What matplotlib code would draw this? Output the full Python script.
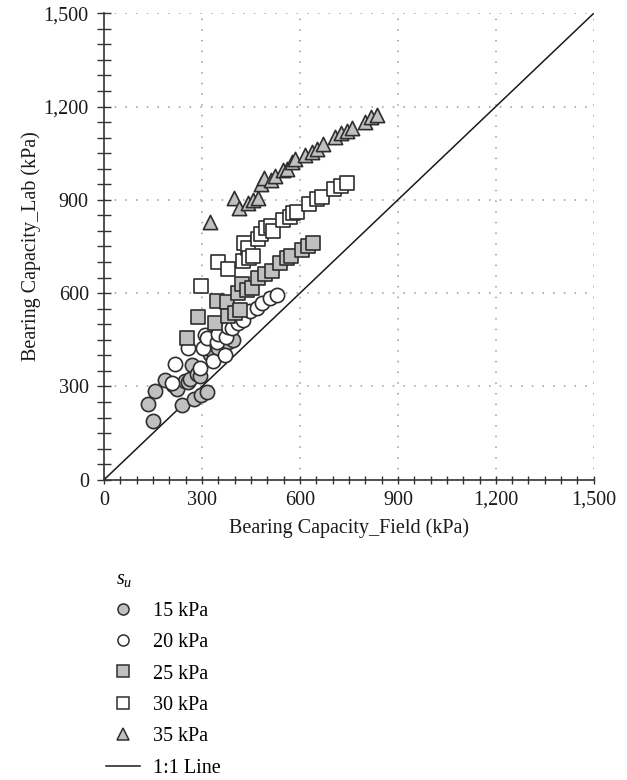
import numpy as np
import matplotlib
matplotlib.use("Agg")
import matplotlib.pyplot as plt
from matplotlib.ticker import MultipleLocator, FuncFormatter
from matplotlib.lines import Line2D

plt.rcParams['font.family'] = ['Liberation Serif', 'DejaVu Serif']
plt.rcParams['mathtext.fontset'] = 'custom'
plt.rcParams['mathtext.it'] = 'Liberation Serif:italic'
plt.rcParams['mathtext.rm'] = 'Liberation Serif'

# field vs lab bearing capacity (kPa) for each undrained shear strength
su15_field = [136, 149, 156, 187, 210, 222, 238, 248, 258, 263, 268, 276, 285, 294, 297, 314, 324, 334, 349, 380, 395]
su15_lab = [243, 190, 285, 320, 305, 291, 241, 316, 313, 325, 369, 260, 340, 332, 273, 281, 405, 412, 424, 442, 450]

su20_field = [207, 217, 258, 294, 304, 309, 314, 334, 345, 350, 370, 372, 380, 391, 410, 426, 447, 467, 483, 508, 529]
su20_lab = [310, 373, 423, 359, 423, 466, 455, 382, 444, 470, 400, 460, 490, 487, 504, 514, 541, 551, 568, 584, 594]

su25_field = [253, 289, 340, 345, 375, 380, 401, 411, 416, 421, 437, 452, 472, 493, 513, 539, 559, 574, 605, 625, 641]
su25_lab = [455, 522, 503, 575, 573, 525, 535, 600, 546, 630, 610, 616, 650, 662, 672, 698, 712, 720, 739, 752, 760]

su30_field = [297, 350, 380, 426, 430, 440, 445, 457, 470, 480, 495, 510, 516, 549, 569, 580, 590, 628, 651, 666, 704, 727, 743]
su30_lab = [622, 700, 678, 702, 760, 745, 712, 718, 775, 790, 808, 815, 800, 835, 846, 857, 862, 887, 902, 910, 934, 944, 953]

su35_field = [325, 398, 412, 440, 455, 470, 480, 490, 510, 525, 548, 560, 575, 585, 615, 636, 651, 671, 707, 727, 745, 758, 799, 819, 835]
su35_lab = [828, 905, 875, 890, 898, 905, 950, 970, 965, 978, 995, 1000, 1022, 1030, 1044, 1055, 1062, 1081, 1101, 1114, 1122, 1130, 1151, 1165, 1172]

labels = ['15 kPa', '20 kPa', '25 kPa', '30 kPa', '35 kPa']

gray = '#c0c0c0'
edge = '#2e2e2e'

fig = plt.figure(figsize=(6.27, 7.8), dpi=100)
ax = fig.add_axes([0.166, 0.385, 0.781, 0.598])

series = [
    (su15_field, su15_lab, 'o', gray),
    (su20_field, su20_lab, 'o', 'white'),
    (su25_field, su25_lab, 's', gray),
    (su30_field, su30_lab, 's', 'white'),
    (su35_field, su35_lab, '^', gray),
]

handles = []
for (fx, ly, m, fc), lab in zip(series, labels):
    ax.scatter(fx, ly, s=105, marker=m, facecolor=fc, edgecolor=edge, linewidth=1.2, zorder=3)
    handles.append(Line2D([], [], linestyle='none', marker=m, markersize=8,
                          markerfacecolor=fc, markeredgecolor=edge, markeredgewidth=1.1, label=lab))

ax.plot([0, 1500], [0, 1500], color='#1a1a1a', linewidth=1.1, zorder=2)
handles.append(Line2D([], [], color='#1a1a1a', linewidth=1.1, label='1:1 Line'))

ax.set_xlim(0, 1500)
ax.set_ylim(0, 1500)
ax.xaxis.set_major_locator(MultipleLocator(300))
ax.yaxis.set_major_locator(MultipleLocator(300))
ax.xaxis.set_minor_locator(MultipleLocator(50))
ax.yaxis.set_minor_locator(MultipleLocator(50))
fmt = FuncFormatter(lambda v, p: f'{int(v):,}')
ax.xaxis.set_major_formatter(fmt)
ax.yaxis.set_major_formatter(fmt)

for s in ['top', 'right']:
    ax.spines[s].set_visible(False)
for s in ['left', 'bottom']:
    ax.spines[s].set_color('#333333')
    ax.spines[s].set_linewidth(1.2)

ax.tick_params(axis='both', which='both', direction='inout', colors='#333333', width=1.0,
               labelsize=14.5, labelcolor='#1a1a1a')
ax.tick_params(axis='x', which='both', length=6, pad=5)
ax.tick_params(axis='y', which='both', length=10, pad=6)

ax.grid(True, which='major', color='#9a9a9a', linewidth=1.1, linestyle=(0, (1, 6)))
ax.set_axisbelow(True)

ax.set_xlabel('Bearing Capacity_Field (kPa)', fontsize=14.5, color='#1a1a1a', labelpad=6)
ax.set_ylabel('Bearing Capacity_Lab (kPa)', fontsize=14.5, color='#1a1a1a', labelpad=2)

leg = fig.legend(handles=handles, loc='upper left', bbox_to_anchor=(0.140, 0.292),
                 frameon=False, title='  $s_u$', fontsize=14.5, title_fontsize=14.5,
                 handlelength=1.7, handletextpad=0.65, labelspacing=0.61,
                 alignment='left')

fig.savefig('out.png', dpi=100)
